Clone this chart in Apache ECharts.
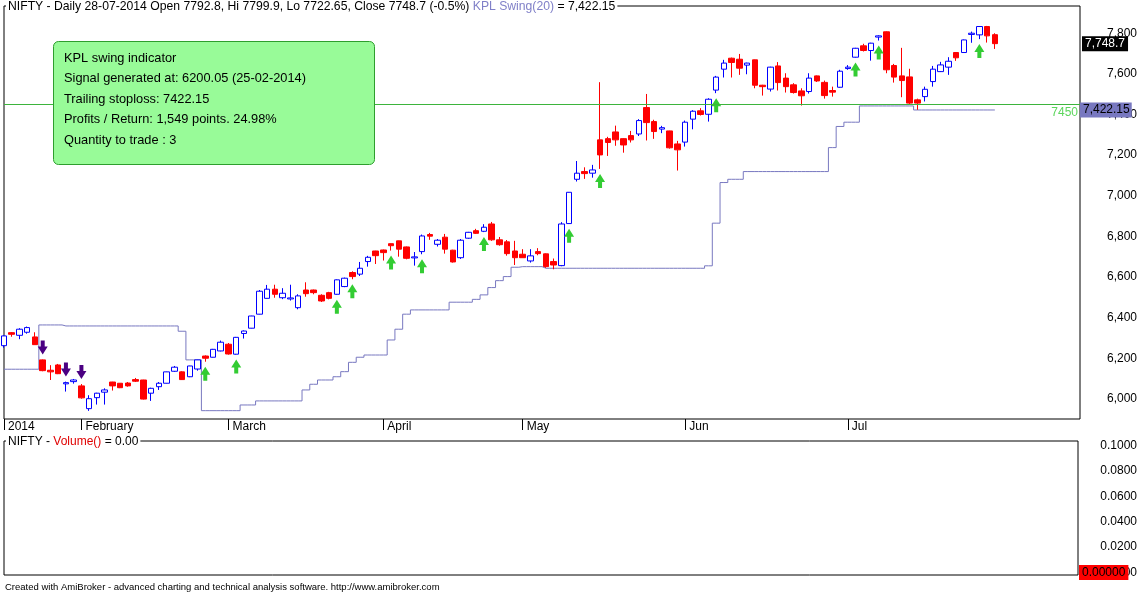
<!DOCTYPE html>
<html><head><meta charset="utf-8">
<script src="https://cdn.jsdelivr.net/npm/echarts@6/dist/echarts.min.js"></script>
<style>html,body{margin:0;padding:0;background:#fff}#c{width:1140px;height:593px}</style>
</head><body><div id="c"></div>
<script>
const dates = [
'2014-01-20','2014-01-21','2014-01-22','2014-01-23','2014-01-24','2014-01-27','2014-01-28','2014-01-29','2014-01-30','2014-01-31',
'2014-02-03','2014-02-04','2014-02-05','2014-02-06','2014-02-07','2014-02-10','2014-02-11','2014-02-12','2014-02-13','2014-02-14','2014-02-17','2014-02-18','2014-02-19','2014-02-20','2014-02-21','2014-02-24','2014-02-25','2014-02-26','2014-02-28',
'2014-03-03','2014-03-04','2014-03-05','2014-03-06','2014-03-07','2014-03-10','2014-03-11','2014-03-12','2014-03-13','2014-03-14','2014-03-18','2014-03-19','2014-03-20','2014-03-21','2014-03-24','2014-03-25','2014-03-26','2014-03-27','2014-03-28','2014-03-31',
'2014-04-01','2014-04-02','2014-04-03','2014-04-04','2014-04-07','2014-04-09','2014-04-10','2014-04-11','2014-04-15','2014-04-16','2014-04-17','2014-04-21','2014-04-22','2014-04-23','2014-04-25','2014-04-28','2014-04-29','2014-04-30',
'2014-05-02','2014-05-05','2014-05-06','2014-05-07','2014-05-08','2014-05-09','2014-05-12','2014-05-13','2014-05-14','2014-05-15','2014-05-16','2014-05-19','2014-05-20','2014-05-21','2014-05-22','2014-05-23','2014-05-26','2014-05-27','2014-05-28','2014-05-29','2014-05-30',
'2014-06-02','2014-06-03','2014-06-04','2014-06-05','2014-06-06','2014-06-09','2014-06-10','2014-06-11','2014-06-12','2014-06-13','2014-06-16','2014-06-17','2014-06-18','2014-06-19','2014-06-20','2014-06-23','2014-06-24','2014-06-25','2014-06-26','2014-06-27','2014-06-30',
'2014-07-01','2014-07-02','2014-07-03','2014-07-04','2014-07-07','2014-07-08','2014-07-09','2014-07-10','2014-07-11','2014-07-14','2014-07-15','2014-07-16','2014-07-17','2014-07-18','2014-07-21','2014-07-22','2014-07-23','2014-07-24','2014-07-25','2014-07-28'];

const opens = [6262,6326,6313,6328,6305,6192,6141,6167,6074,6085,
6064,5952,6006,6033,6083,6077,6078,6095,6093,6028,6060,6077,6136,6133,6109,6147,6211,6205,6236,
6269,6220,6322,6348,6417,6495,6540,6498,6492,6449,6536,6536,6510,6523,6515,6553,6622,6614,6676,6728,
6733,6764,6778,6748,6694,6725,6809,6761,6796,6732,6695,6791,6828,6825,6861,6783,6773,6728,
6712,6679,6725,6714,6676,6656,6863,7081,7119,7111,7275,7281,7314,7281,7296,7304,7434,7365,7328,7319,7255,
7264,7377,7418,7401,7520,7623,7677,7672,7643,7669,7544,7525,7639,7579,7546,7516,7513,7590,7558,7518,7534,
7626,7682,7738,7715,7781,7807,7641,7590,7585,7472,7488,7562,7611,7633,7705,7705,7794,7792,7833,7792.8];

const closes = [6310,6318,6343,6351,6267,6139,6133,6124,6080,6093,
6005,6001,6028,6044,6064,6055,6064,6087,5999,6052,6077,6133,6156,6095,6162,6192,6200.05,6244,6279,
6221,6303,6334,6408,6530,6540,6515,6520,6497,6507,6518,6523,6482,6495,6586,6594,6602,6643,6697,6705,
6720,6754,6737,6692,6699,6802,6801,6781,6737,6674,6781,6820,6815,6845,6783,6759,6715,6695,
6695,6704,6715,6651,6659,6861,7017,7111,7109,7127,7201,7262,7275,7250,7275,7370,7360,7316,7335,7236,7226,
7362,7416,7400,7475,7584,7653,7656,7628,7653,7544,7537,7633,7557,7537,7508,7492,7579,7565,7493,7510,7613,
7633,7726,7715,7751,7787,7620,7584,7567,7456,7456,7524,7623,7644,7662,7679,7767,7800,7833,7787,7748.7];

const lows = [6252,6306,6294,6321,6267,6136,6093,6122,6036,6075,
6001,5941,5972,5972,6041,6053,6060,6083,5997,5990,6044,6076,6133,6093,6107,6139,6183,6204,6234,
6218,6218,6297,6347,6416,6494,6498,6491,6484,6441,6503,6515,6477,6490,6513,6550,6589,6605,6651,6664,
6681,6730,6700,6687,6656,6712,6783,6750,6715,6671,6689,6788,6812,6821,6778,6754,6705,6659,
6695,6671,6707,6645,6638,6653,6862,7070,7083,7089,7132,7196,7246,7212,7262,7294,7272,7280,7308,7232,7124,
7242,7327,7395,7365,7505,7582,7582,7595,7598,7529,7493,7513,7518,7508,7503,7444,7503,7560,7478,7488,7532,
7620,7680,7710,7665,7764,7603,7557,7485,7447,7423,7464,7537,7609,7595,7664,7703,7753,7771,7754,7722.65];

const highs = [6312,6329,6348,6356,6328,6194,6166,6172,6085,6098,
6073,6018,6030,6052,6084,6078,6083,6103,6094,6055,6083,6134,6162,6136,6163,6193,6214,6246,6287,
6275,6305,6337,6409,6536,6561,6562,6545,6562,6515,6574,6538,6515,6527,6588,6597,6628,6674,6704,6729,
6735,6765,6779,6750,6723,6809,6817,6787,6812,6734,6787,6822,6837,6860,6871,6797,6782,6778,
6737,6737,6742,6716,6691,6870,7018,7171,7140,7152,7559,7290,7345,7283,7319,7377,7501,7374,7344,7320,7270,
7370,7421,7431,7480,7590,7669,7680,7698,7655,7670,7546,7635,7658,7603,7554,7529,7603,7592,7567,7537,7620,
7643,7728,7748,7753,7790,7809,7649,7728,7625,7478,7537,7639,7659,7682,7707,7769,7808,7835,7836,7799.9];

// KPL Swing(20) trailing stop
const kplSwing = [6146,6146,6146,6146,6146,6364,6364,6364,6359,6359,
6359,6359,6359,6359,6359,6359,6359,6359,6359,6359,6359,6359,6359,6333,6192,6192,5942,5942,5942,
5942,5942,5970,5970,5990,5990,5990,5990,5990,5990,6044,6072,6093,6093,6109,6134,6180,6205,6216,6216,
6216,6290,6343,6417,6438,6438,6438,6438,6438,6476,6476,6476,6490,6512,6548,6582,6602,6648,
6651,6651,6651,6643,6643,6643,6643,6643,6643,6643,6643,6643,6643,6643,6643,6643,6643,6643,6643,6643,6643,
6643,6643,6643,6655,6865,7065,7081,7081,7119,7119,7119,7119,7119,7119,7119,7119,7119,7119,7119,7237,7341,
7362,7362,7442,7442,7442,7442,7442,7442,7442,7422.15,7422.15,7422.15,7422.15,7422.15,7422.15,7422.15,7422.15,7422.15,7422.15,7422.15];

const volume = [0,0,0,0,0,0,0,0,0,0, 0,0,0,0,0,0,0,0,0,0,0,0,0,0,0,0,0,0,0,
0,0,0,0,0,0,0,0,0,0,0,0,0,0,0,0,0,0,0,0, 0,0,0,0,0,0,0,0,0,0,0,0,0,0,0,0,0,0,
0,0,0,0,0,0,0,0,0,0,0,0,0,0,0,0,0,0,0,0,0, 0,0,0,0,0,0,0,0,0,0,0,0,0,0,0,0,0,0,0,0,0,
0,0,0,0,0,0,0,0,0,0,0,0,0,0,0,0,0,0,0,0];

const buyIdx = [26,30,43,45,50,54,62,73,77,92,110,113,126];
const sellIdx = [5,8,10];
const levelLine = 7450;
const tickLabels = ['2014','February','March','April','May','Jun','Jul'];
const infoLines = ['KPL swing indicator','Signal generated at: 6200.05 (25-02-2014)','Trailing stoploss: 7422.15','Profits / Return: 1,549 points. 24.98%','Quantity to trade : 3'];
const volumeTicks = [0, 0.02, 0.04, 0.06, 0.08, 0.1];

const FONT = '"Liberation Sans", Arial, sans-serif';
const PAD = 11;
const categories = dates.concat(Array.from({length: PAD}, (_, k) => 'pad' + k));
const labelByIdx = {};
let k = 0;
dates.forEach((d, i) => {
  if (i === 0 || d.slice(5, 7) !== dates[i - 1].slice(5, 7)) { labelByIdx[i] = tickLabels[k++]; }
});
const last = dates.length - 1;
const fmtNum = v => { const s = String(v); const p = s.split('.'); return p[0].replace(/\B(?=(\d{3})+(?!\d))/g, ',') + (p[1] ? '.' + p[1] : ''); };
const upArrow = 'path://M5,0 L10,8 L7,8 L7,14 L3,14 L3,8 L0,8 Z';
const downArrow = 'path://M3,0 L7,0 L7,6 L10,6 L5,14 L0,6 L3,6 Z';
const HIDE = 'rgba(0,0,0,0)';

const chart = echarts.init(document.getElementById('c'), null, {renderer: 'canvas'});
chart.setOption({
  animation: false,
  backgroundColor: '#fff',
  title: [
    { text: '{a|NIFTY - Daily 28-07-2014 Open ' + opens[last] + ', Hi ' + highs[last] + ', Lo ' + lows[last] + ', Close ' + closes[last] + ' (-0.5%) }{b|KPL Swing(20)}{a| = ' + fmtNum(kplSwing[last]) + '}',
      left: 6, top: 0, padding: [0, 2], backgroundColor: '#fff',
      textStyle: { fontWeight: 'normal', rich: { a: { fontFamily: FONT, fontSize: 12.2, fontWeight: 'normal', color: '#000', lineHeight: 14 }, b: { fontFamily: FONT, fontSize: 12.2, fontWeight: 'normal', color: '#8080C8', lineHeight: 14 } } } },
    { text: '{a|NIFTY - }{r|Volume()}{a| = 0.00}', left: 6, top: 435, padding: [0, 2], backgroundColor: '#fff',
      textStyle: { fontWeight: 'normal', rich: { a: { fontFamily: FONT, fontSize: 12, fontWeight: 'normal', color: '#000', lineHeight: 14 }, r: { fontFamily: FONT, fontSize: 12, fontWeight: 'normal', color: '#E00000', lineHeight: 14 } } } },
    { text: 'Created with AmiBroker - advanced charting and technical analysis software. http://www.amibroker.com',
      left: 5, top: 582, padding: 0, textStyle: { fontFamily: FONT, fontSize: 9.5, fontWeight: 'normal', color: '#000' } }
  ],
  grid: [
    { left: 4, top: 6, width: 1076, height: 413, show: true, borderColor: '#000', borderWidth: 1, backgroundColor: '#fff' },
    { left: 4, top: 441, width: 1076, height: 134, show: true, borderColor: '#000', borderWidth: 1, backgroundColor: '#fff' }
  ],
  xAxis: [
    { type: 'category', gridIndex: 0, data: categories, boundaryGap: false,
      axisLine: { show: false },
      axisTick: { show: true, length: 11, interval: (i) => labelByIdx[i] !== undefined, lineStyle: { color: '#000' } },
      axisLabel: { show: true, interval: (i) => labelByIdx[i] !== undefined, formatter: (v, i) => labelByIdx[i] || '',
        align: 'left', padding: [0, 0, 0, 4], margin: 2, fontFamily: FONT, fontSize: 12, color: '#000' },
      splitLine: { show: false } },
    { type: 'category', gridIndex: 1, data: categories, boundaryGap: false,
      axisLine: { show: false }, axisTick: { show: false }, axisLabel: { show: false }, splitLine: { show: false } }
  ],
  yAxis: [
    { type: 'value', gridIndex: 0, position: 'right', min: 5901, max: 7934, splitNumber: 10,
      axisLine: { show: false }, axisTick: { show: false }, splitLine: { show: false },
      axisLabel: { formatter: v => (Math.abs(v % 200) < 1e-6 ? fmtNum(v) : ''), align: 'right', margin: 57, fontFamily: FONT, fontSize: 12, color: '#000' } },
    { type: 'value', gridIndex: 1, position: 'right', min: -0.002, max: 0.1037, splitNumber: 5,
      axisLine: { show: false }, axisTick: { show: false }, splitLine: { show: false },
      axisLabel: { formatter: v => (volumeTicks.some(t => Math.abs(t - v) < 1e-9) ? v.toFixed(4) : ''), align: 'right', margin: 59, fontFamily: FONT, fontSize: 12, color: '#000' } }
  ],
  series: [
    { name: 'KPL Swing', type: 'line', xAxisIndex: 0, yAxisIndex: 0, data: kplSwing, step: 'middle', symbol: 'none',
      lineStyle: { color: '#7878C0', width: 1 }, z: 1,
      markLine: { symbol: ['none', 'none'], silent: true, animation: false, z: 6,
        data: [{ yAxis: kplSwing[last], lineStyle: { color: HIDE, width: 1 },
          label: { show: true, position: 'end', distance: 0, formatter: fmtNum(kplSwing[last]), color: '#000', backgroundColor: '#7878C0', padding: [2, 2, 1, 3], fontFamily: FONT, fontSize: 12 } }] } },
    { name: 'NIFTY', type: 'candlestick', xAxisIndex: 0, yAxisIndex: 0, barWidth: 6, z: 3,
      data: dates.map((d, i) => [opens[i], closes[i], lows[i], highs[i]]),
      itemStyle: { color: '#fff', color0: '#FF0000', borderColor: '#0000FF', borderColor0: '#FF0000', borderWidth: 1 },
      markLine: { symbol: ['none', 'none'], silent: true, animation: false, z: 6,
        data: [
          { yAxis: levelLine, lineStyle: { color: '#3DB43D', width: 1, type: 'solid' },
            label: { show: true, position: 'insideEndBottom', distance: [2, 2], formatter: String(levelLine), color: '#5CD65C', fontFamily: FONT, fontSize: 12 } },
          { yAxis: closes[last], lineStyle: { color: HIDE, width: 1 },
            label: { show: true, position: 'end', distance: 2, formatter: fmtNum(closes[last]), color: '#fff', backgroundColor: '#000', padding: [2, 3, 1, 3], fontFamily: FONT, fontSize: 12 } }
        ] } },
    { name: 'Buy', type: 'scatter', xAxisIndex: 0, yAxisIndex: 0, z: 4,
      data: buyIdx.map(i => [i, lows[i]]), symbol: upArrow, symbolSize: [10, 14], symbolOffset: [0, 12],
      itemStyle: { color: '#33CC33', opacity: 1 } },
    { name: 'Sell', type: 'scatter', xAxisIndex: 0, yAxisIndex: 0, z: 4,
      data: sellIdx.map(i => [i, highs[i]]), symbol: downArrow, symbolSize: [10, 14], symbolOffset: [0, -12],
      itemStyle: { color: '#4B0082', opacity: 1 } },
    { name: 'Volume', type: 'bar', xAxisIndex: 1, yAxisIndex: 1, data: volume, itemStyle: { color: '#0000FF' },
      markLine: { symbol: ['none', 'none'], silent: true, animation: false, z: 6,
        data: [{ yAxis: 0, lineStyle: { color: HIDE, width: 1 },
          label: { show: true, position: 'end', distance: 1, formatter: '0.00000', color: '#000', backgroundColor: '#FF0000', padding: [2, 3, 1, 3], fontFamily: FONT, fontSize: 12 } }] } }
  ],
  graphic: [
    { type: 'rect', x: 53.5, y: 41.5, z: 10, shape: { x: 0, y: 0, width: 321, height: 123, r: 5 }, style: { fill: '#98FB98', stroke: '#2E9E2E', lineWidth: 1 } },
    { type: 'text', x: 64, y: 48, z: 11, style: { text: infoLines.join('\n'), font: '12.8px ' + FONT, lineHeight: 20.5, fill: '#000', verticalAlign: 'top', align: 'left' } }
  ]
});
</script></body></html>
